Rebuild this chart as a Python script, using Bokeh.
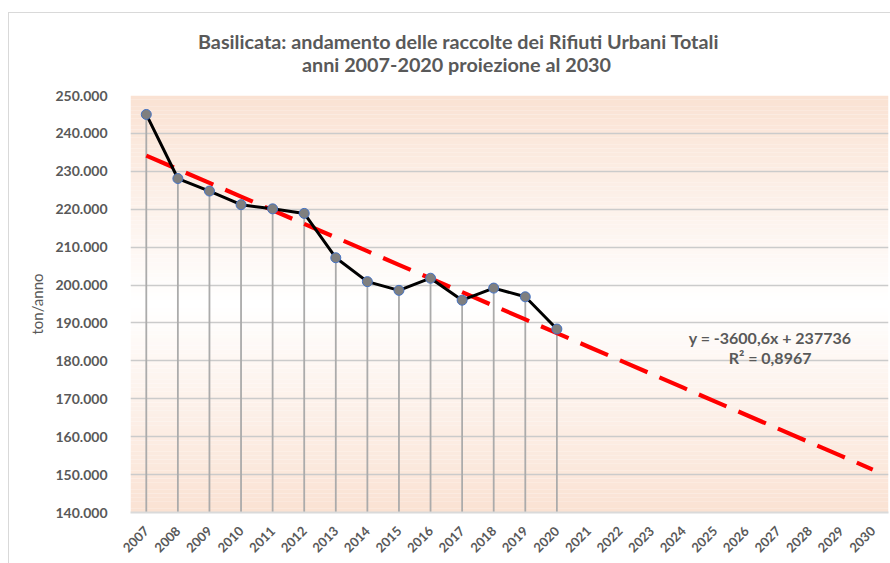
from bokeh.plotting import figure
from bokeh.models import Label, FixedTicker, Range1d
from bokeh.layouts import column
from bokeh.core.properties import value
from bokeh.embed import file_html
from bokeh.resources import INLINE
import math

# ---- data ----
all_years = ["2007", "2008", "2009", "2010", "2011", "2012", "2013", "2014",
             "2015", "2016", "2017", "2018", "2019", "2020", "2021", "2022",
             "2023", "2024", "2025", "2026", "2027", "2028", "2029", "2030"]
data_years = ["2007", "2008", "2009", "2010", "2011", "2012", "2013",
              "2014", "2015", "2016", "2017", "2018", "2019", "2020"]
values = [245000, 228100, 224800, 221200, 220100, 218900, 207200,
          200900, 198600, 201800, 196000, 199200, 196900, 188400]
trend_slope = -3600.6
trend_intercept = 237736
y_ticks = [140000, 150000, 160000, 170000, 180000, 190000,
           200000, 210000, 220000, 230000, 240000, 250000]
y_tick_labels = ["140.000", "150.000", "160.000", "170.000", "180.000", "190.000",
                 "200.000", "210.000", "220.000", "230.000", "240.000", "250.000"]
title_1 = "Basilicata: andamento delle raccolte dei Rifiuti Urbani Totali"
title_2 = "anni 2007-2020 proiezione al 2030"
eq_text = "y = -3600,6x + 237736"
r2_text = "R² = 0,8967"
y_label = "ton/anno"

FONT = "Lato"
GREY = "#595959"
y_min, y_max = y_ticks[0], y_ticks[-1]

W = 890
TITLE_H = 85
FRAME_L, FRAME_R = 130, 888   # page pixels of the plot area (frames are aligned in a column)

# ---- title strip ----
pt = figure(width=W, height=TITLE_H, x_range=Range1d(FRAME_L, FRAME_R),
            y_range=Range1d(TITLE_H, 0),
            x_axis_type=None, y_axis_type=None, output_backend="svg",
            toolbar_location=None, min_border=0)
pt.outline_line_color = None
pt.background_fill_color = None
pt.border_fill_color = None
pt.grid.visible = False
pt.text(x=[458, 456], y=[40, 63], text=[title_1, title_2], text_align="center",
        text_baseline="middle", text_font=value(FONT), text_font_style="bold",
        text_font_size="19.8px", text_color=GREY)

# ---- main chart ----
p = figure(x_range=all_years, y_range=(y_min, y_max),
           width=W, height=563 - TITLE_H, output_backend="svg", toolbar_location=None,
           min_border_left=FRAME_L, min_border_right=W - FRAME_R, min_border_top=10,
           min_border_bottom=51)
p.outline_line_color = None
p.background_fill_color = "white"
p.border_fill_color = None

# gradient background (peach at edges, white in the middle)
edge = (250, 226, 211)
mid_val = (y_min + y_max) / 2
n_bands = 110
step = (y_max - y_min) / n_bands
bottoms, tops, cols = [], [], []
for i in range(n_bands):
    b = y_min + i * step
    c = b + step / 2
    t = abs(c - mid_val) / (mid_val - y_min)
    r = round(255 + (edge[0] - 255) * t)
    g = round(255 + (edge[1] - 255) * t)
    bl = round(255 + (edge[2] - 255) * t)
    bottoms.append(b)
    tops.append(b + step)
    cols.append("#%02x%02x%02x" % (r, g, bl))
p.quad(left=[0] * n_bands, right=[len(all_years)] * n_bands, bottom=bottoms, top=tops,
       fill_color=cols, line_color=None, level="image")

# grid
p.xgrid.grid_line_color = None
p.ygrid.grid_line_color = "#CBCBCB"
p.ygrid.grid_line_width = 1.5
p.yaxis.ticker = FixedTicker(ticks=y_ticks)
p.yaxis.major_label_overrides = {v: s for v, s in zip(y_ticks, y_tick_labels)}

# drop lines
p.segment(x0=data_years, y0=values, x1=data_years, y1=[y_min] * len(values),
          line_color="#ABABAB", line_width=1.8)

# trend line
trend_x = list(range(1, len(all_years) + 1))
trend_y = [trend_slope * x + trend_intercept for x in trend_x]
p.line(all_years, trend_y, line_color="#FF0000", line_width=4.2, line_dash="30 13")

# data line
p.line(data_years, values, line_color="black", line_width=3)
p.scatter(data_years, values, size=10, fill_color="#7F7F7F",
          line_color="#4472C4", line_width=1)

# axes
for ax in (p.xaxis, p.yaxis):
    ax.axis_line_color = None
    ax.major_tick_line_color = None
    ax.minor_tick_line_color = None
    ax.major_label_text_font = FONT
    ax.major_label_text_font_style = "bold"
    ax.major_label_text_color = GREY
p.xaxis.axis_line_color = "#DADADA"
p.xaxis.axis_line_width = 2
p.yaxis.major_label_text_font_size = "14px"
p.yaxis.major_label_standoff = 17
p.xaxis.major_label_text_font_size = "13px"
p.xaxis.major_label_orientation = math.pi / 4
p.xaxis.major_label_standoff = 10
p.yaxis.axis_label = y_label
p.yaxis.axis_label_text_font = FONT
p.yaxis.axis_label_text_font_style = "normal"
p.yaxis.axis_label_text_font_size = "15px"
p.yaxis.axis_label_text_color = GREY
p.yaxis.axis_label_standoff = 6

# equation
p.add_layout(Label(x=20.25, y=186200, text=eq_text, text_align="center",
                   text_baseline="middle", text_font=FONT, text_font_style="bold",
                   text_font_size="16px", text_color=GREY))
p.add_layout(Label(x=20.25, y=180900, text=r2_text, text_align="center",
                   text_baseline="middle", text_font=FONT, text_font_style="bold",
                   text_font_size="16px", text_color=GREY))

layout = column(pt, p, spacing=0, styles={
    "background-image": "linear-gradient(#D9D9D9, #D9D9D9), linear-gradient(#D9D9D9, #D9D9D9)",
    "background-size": "1px 100%, 100% 1px",
    "background-position": "8px 12px, 8px 12px",
    "background-repeat": "no-repeat",
})

open("out.html", "w").write(file_html(layout, INLINE))
